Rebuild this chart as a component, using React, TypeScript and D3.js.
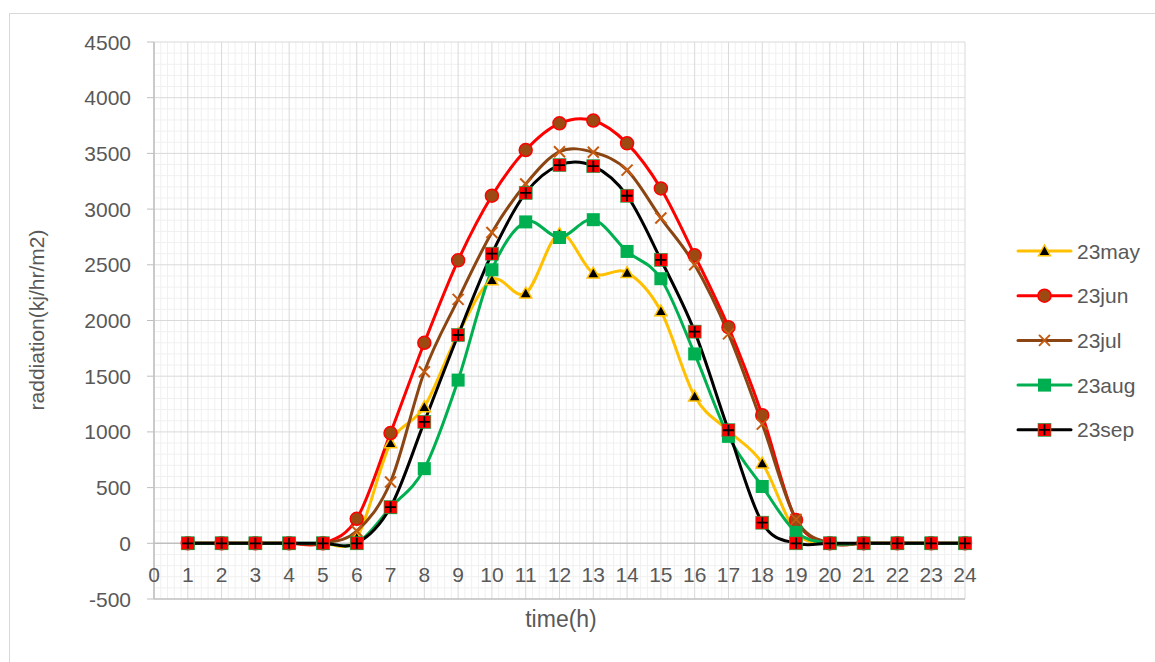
import React from "react";
import * as d3 from "d3";

const hours = [1,2,3,4,5,6,7,8,9,10,11,12,13,14,15,16,17,18,19,20,21,22,23,24];
const may = [0,0,0,0,0,50,900,1225,1880,2365,2245,2780,2425,2430,2085,1320,1010,720,100,0,0,0,0,0];
const jun = [0,0,0,0,0,220,990,1800,2540,3120,3530,3770,3795,3590,3185,2585,1940,1150,210,0,0,0,0,0];
const jul = [0,0,0,0,0,110,550,1540,2190,2790,3225,3515,3510,3350,2920,2500,1880,1070,215,0,0,0,0,0];
const aug = [0,0,0,0,0,0,320,670,1465,2455,2885,2745,2905,2620,2375,1700,960,510,100,0,0,0,0,0];
const sep = [0,0,0,0,0,0,325,1090,1870,2600,3145,3395,3385,3120,2545,1900,1015,185,0,0,0,0,0,0];
const xTicks = d3.range(0, 25);
const yTicks = d3.range(-500, 4501, 500);

type Series = { name: string; values: number[]; line: string; marker: string };
const series: Series[] = [
  { name: "23may", values: may, line: "#FFC000", marker: "tri" },
  { name: "23jun", values: jun, line: "#FF0000", marker: "circle" },
  { name: "23jul", values: jul, line: "#8B4513", marker: "x" },
  { name: "23aug", values: aug, line: "#00B050", marker: "square" },
  { name: "23sep", values: sep, line: "#000000", marker: "plus" },
];

const W = 1155, H = 662;
const x = d3.scaleLinear().domain([0, 24]).range([154, 965]);
const y = d3.scaleLinear().domain([-500, 4500]).range([599, 42]);
const FONT = "'Liberation Sans', Arial, sans-serif";
const TXT = "#595959";

function Marker({ kind, cx, cy }: { kind: string; cx: number; cy: number }) {
  if (kind === "tri") {
    const s = 6;
    return <path d={`M${cx},${cy - s} L${cx + s},${cy + s * 0.8} L${cx - s},${cy + s * 0.8} Z`} fill="#000" stroke="#FFC000" strokeWidth={1.5} />;
  }
  if (kind === "circle") {
    return <circle cx={cx} cy={cy} r={6.5} fill="#9C4A12" stroke="#FF0000" strokeWidth={1.5} />;
  }
  if (kind === "x") {
    const s = 5.5;
    return <path d={`M${cx - s},${cy - s} L${cx + s},${cy + s} M${cx - s},${cy + s} L${cx + s},${cy - s}`} stroke="#C55A11" strokeWidth={2} />;
  }
  if (kind === "square") {
    const s = 6.5;
    return <rect x={cx - s} y={cy - s} width={2 * s} height={2 * s} fill="#00B050" />;
  }
  const s = 6.5;
  return (
    <g>
      <rect x={cx - s} y={cy - s} width={2 * s} height={2 * s} fill="#FF0000" stroke="#00B050" strokeWidth={0.6} />
      <path d={`M${cx - s + 1},${cy} L${cx + s - 1},${cy} M${cx},${cy - s + 1} L${cx},${cy + s - 1}`} stroke="#000" strokeWidth={1.8} />
    </g>
  );
}

export default function App() {
  const line = d3.line<number>()
    .x((_, i) => x(hours[i]))
    .y((v) => y(v))
    .curve(d3.curveCardinal.tension(0));

  const minorX = d3.range(0, 24.001, 0.2).filter((v) => Math.abs(v - Math.round(v)) > 1e-6);
  const minorY = d3.range(-500, 4501, 100).filter((v) => v % 500 !== 0);

  return (
    <svg width={W} height={H} style={{ position: "absolute", left: 0, top: 0, background: "#fff" }}>
      <rect x={9.5} y={13.5} width={1200} height={700} fill="#fff" stroke="#D9D9D9" strokeWidth={1} />
      {minorX.map((v, i) => (
        <line key={"mx" + i} x1={x(v)} x2={x(v)} y1={y(4500)} y2={y(-500)} stroke="#F0F0F0" strokeWidth={1} />
      ))}
      {minorY.map((v, i) => (
        <line key={"my" + i} x1={x(0)} x2={x(24)} y1={y(v)} y2={y(v)} stroke="#F0F0F0" strokeWidth={1} />
      ))}
      {xTicks.map((v) => (
        <line key={"gx" + v} x1={x(v)} x2={x(v)} y1={y(4500)} y2={y(-500)} stroke="#D9D9D9" strokeWidth={1} />
      ))}
      {yTicks.map((v) => (
        <line key={"gy" + v} x1={x(0)} x2={x(24)} y1={y(v)} y2={y(v)} stroke={v === 0 || v === -500 ? "#BFBFBF" : "#D9D9D9"} strokeWidth={v === 0 || v === -500 ? 1.5 : 1} />
      ))}
      <line x1={x(0)} x2={x(0)} y1={y(4500)} y2={y(-500)} stroke="#BFBFBF" strokeWidth={1.5} />
      {yTicks.map((v) => (
        <line key={"ty" + v} x1={x(0) - 7} x2={x(0)} y1={y(v)} y2={y(v)} stroke="#BFBFBF" strokeWidth={1} />
      ))}
      {yTicks.map((v) => (
        <text key={"ly" + v} x={131} y={y(v) + 7.5} textAnchor="end" fontFamily={FONT} fontSize={21} fill={TXT}>{v}</text>
      ))}
      {xTicks.map((v) => (
        <text key={"lx" + v} x={x(v)} y={582} textAnchor="middle" fontFamily={FONT} fontSize={21} fill={TXT}>{v}</text>
      ))}
      <text x={561} y={627} textAnchor="middle" fontFamily={FONT} fontSize={23} fill={TXT}>time(h)</text>
      <text transform="translate(44,320) rotate(-90)" textAnchor="middle" fontFamily={FONT} fontSize={21} fill={TXT}>raddiation(kj/hr/m2)</text>

      {series.map((s) => (
        <path key={"l" + s.name} d={line(s.values) || ""} fill="none" stroke={s.line} strokeWidth={3} strokeLinejoin="round" strokeLinecap="round" />
      ))}
      {series.map((s) => (
        <g key={"m" + s.name}>
          {s.values.map((v, i) => (
            <Marker key={i} kind={s.marker} cx={x(hours[i])} cy={y(v)} />
          ))}
        </g>
      ))}

      {series.map((s, i) => {
        const ly = 251 + i * 44.7;
        return (
          <g key={"lg" + s.name}>
            <line x1={1018} x2={1071} y1={ly} y2={ly} stroke={s.line} strokeWidth={3} strokeLinecap="round" />
            <Marker kind={s.marker} cx={1044.5} cy={ly} />
            <text x={1077} y={ly + 7.5} fontFamily={FONT} fontSize={21} fill={TXT}>{s.name}</text>
          </g>
        );
      })}
    </svg>
  );
}
